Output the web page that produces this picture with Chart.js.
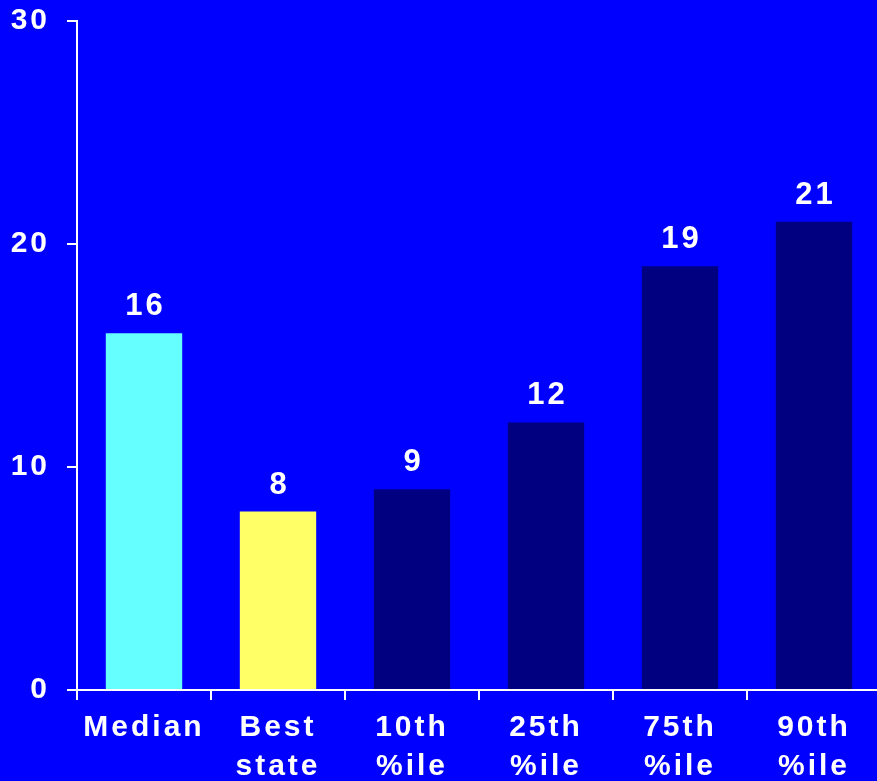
<!DOCTYPE html>
<html>
<head>
<meta charset="utf-8">
<script src="https://cdn.jsdelivr.net/npm/chart.js@4.4.1/dist/chart.umd.min.js"></script>
<style>
  html, body { margin: 0; padding: 0; background: #0000FF; overflow: hidden; }
  #wrap { position: absolute; left: 0; top: 0; }
</style>
</head>
<body>
<div id="wrap"><canvas id="c" width="881" height="800"></canvas></div>
<script>
// Category labels (multi-line where the label wraps)
const categories = [["Median"], ["Best", "state"], ["10th", "%ile"], ["25th", "%ile"], ["75th", "%ile"], ["90th", "%ile"]];
// Values shown above each bar
const values = [16, 8, 9, 12, 19, 21];
// Bar fills: median, best state, then the percentile bars
const barColors = ["#66FFFF", "#FFFF66", "#000080", "#000080", "#000080", "#000080"];
// Y axis ticks
const yTicks = [0, 10, 20, 30];

const FONT = "'Liberation Sans', Arial, sans-serif";
const SPACING = "3px";
const CANVAS_H = 800;

// Keep letter spacing on the canvas context for measuring and drawing text
const spacingPlugin = {
  id: 'spacing',
  beforeLayout(chart) { chart.ctx.letterSpacing = SPACING; },
  beforeDraw(chart) { chart.ctx.letterSpacing = SPACING; }
};

// Value labels centred above each bar
const valueLabels = {
  id: 'valueLabels',
  afterDatasetsDraw(chart) {
    const ctx = chart.ctx;
    const meta = chart.getDatasetMeta(0);
    ctx.save();
    ctx.letterSpacing = SPACING;
    ctx.fillStyle = '#FFFFFF';
    ctx.font = `bold 31px ${FONT}`;
    ctx.textAlign = 'center';
    ctx.textBaseline = 'alphabetic';
    meta.data.forEach((bar, i) => {
      ctx.fillText(String(values[i]), bar.x + 1.5, bar.y - 18);
    });
    ctx.restore();
  }
};

new Chart(document.getElementById('c'), {
  type: 'bar',
  data: {
    labels: categories,
    datasets: [{
      data: values,
      backgroundColor: barColors,
      borderWidth: 0,
      barPercentage: 0.57,
      categoryPercentage: 1.0
    }]
  },
  options: {
    responsive: false,
    animation: false,
    layout: { padding: { left: 0, top: 21, right: 0, bottom: 0 } },
    plugins: { legend: { display: false }, tooltip: { enabled: false } },
    scales: {
      x: {
        afterFit(scale) {
          scale.height = CANVAS_H - 690;
          scale.paddingLeft = 0;
          scale.paddingRight = 0;
        },
        grid: { display: true, drawOnChartArea: false, drawTicks: true, tickLength: 10, color: '#FFFFFF', lineWidth: 2, offset: true },
        border: { display: true, color: '#FFFFFF', width: 2 },
        ticks: {
          color: '#FFFFFF',
          padding: 8,
          maxRotation: 0,
          autoSkip: false,
          font: { family: FONT, size: 30, weight: 'bold', lineHeight: 1.3 }
        }
      },
      y: {
        min: 0,
        max: 30,
        afterBuildTicks(scale) { scale.ticks = yTicks.map(v => ({ value: v })); },
        afterFit(scale) {
          scale.width = 77;
          scale.paddingTop = 0;
          scale.paddingBottom = 0;
        },
        grid: { display: true, drawOnChartArea: false, drawTicks: true, tickLength: 10, color: '#FFFFFF', lineWidth: 2 },
        border: { display: true, color: '#FFFFFF', width: 2 },
        ticks: {
          color: '#FFFFFF',
          padding: 17,
          font: { family: FONT, size: 30, weight: 'bold' }
        }
      }
    }
  },
  plugins: [spacingPlugin, valueLabels]
});
</script>
</body>
</html>
